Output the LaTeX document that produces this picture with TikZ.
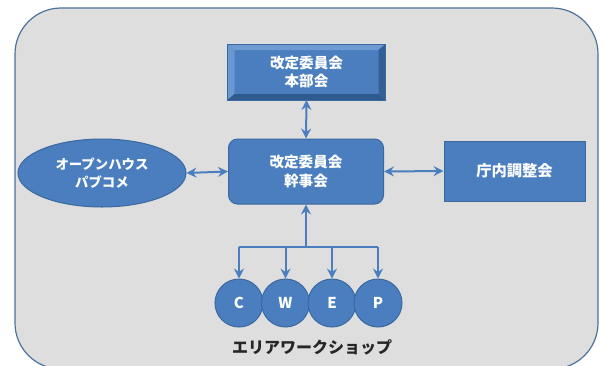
\documentclass[tikz,border=0pt]{standalone}
\usepackage{fontspec}
\newfontfamily\jp{Noto Sans CJK JP}
\usetikzlibrary{shapes.geometric,arrows.meta}
\definecolor{bluefill}{HTML}{4A7EBF}
\definecolor{blueedge}{HTML}{3B689F}
\definecolor{bglight}{HTML}{DEDEDE}
\definecolor{outeredge}{HTML}{4F729C}
\definecolor{bevlight}{HTML}{6E9BD2}
\definecolor{bevdark}{HTML}{2F5A8E}
\begin{document}
\begin{tikzpicture}[x=1pt,y=-1pt,
  boxtext/.style={text=white,font=\jp\bfseries\fontsize{14.6}{18.5}\selectfont,align=center},
  bluebox/.style={boxtext,fill=bluefill,draw=blueedge,line width=1pt,inner sep=0pt},
  circ/.style={bluebox,circle,minimum size=48pt,font=\jp\bfseries\fontsize{15}{16}\selectfont},
  conn/.style={draw=bluefill,line width=2pt},
  tip/.tip={Stealth[length=10pt,width=10pt,inset=3.5pt]},
  arr/.style={conn,-tip},
  darr/.style={conn,tip-tip}
]
\useasboundingbox (0,0) rectangle (606,365);
\fill[white] (0,0) rectangle (606,365);
\begin{scope}
\clip (0,0) rectangle (606,365);
\draw[fill=bglight,draw=outeredge,line width=1.2pt,rounded corners=46pt] (15,8) rectangle (598,369);
\end{scope}
% bevelled box
\node[bluebox,minimum width=157pt,minimum height=55pt] (honbu) at (306.5,72) {};
\fill[bevlight] (honbu.north west) -- (honbu.north east) -- ([xshift=-7pt,yshift=-6pt]honbu.north east) -- ([xshift=7pt,yshift=-6pt]honbu.north west) -- cycle;
\fill[bevlight!85!bluefill] (honbu.north west) -- ([xshift=7pt,yshift=-6pt]honbu.north west) -- ([xshift=7pt,yshift=6pt]honbu.south west) -- (honbu.south west) -- cycle;
\fill[bevdark] (honbu.south west) -- (honbu.south east) -- ([xshift=-7pt,yshift=6pt]honbu.south east) -- ([xshift=7pt,yshift=6pt]honbu.south west) -- cycle;
\fill[bevdark!85!bluefill] (honbu.north east) -- ([xshift=-7pt,yshift=-6pt]honbu.north east) -- ([xshift=-7pt,yshift=6pt]honbu.south east) -- (honbu.south east) -- cycle;
\draw[blueedge,line width=1pt] (honbu.north west) rectangle (honbu.south east);
\node[boxtext] at (honbu.center) {改定委員会\\本部会};
% main box
\node[bluebox,rounded corners=9pt,minimum width=155pt,minimum height=65pt] (kanji) at (306,171.5) {改定委員会\\幹事会};
% ellipse
\node[bluebox,ellipse,minimum width=168pt,minimum height=68pt,font=\jp\bfseries\fontsize{13.4}{17.5}\selectfont] (open) at (102,173) {オープンハウス\\パブコメ};
% right box
\node[bluebox,minimum width=141pt,minimum height=60pt,font=\jp\bfseries\fontsize{15.3}{18}\selectfont] (chonai) at (514.5,171) {庁内調整会};
% circles
\node[circ] (C) at (239,303) {C};
\node[circ] (W) at (285.5,303) {W};
\node[circ] (E) at (332,303) {E};
\node[circ] (P) at (378,303) {P};
\node[font=\jp\bfseries\fontsize{16}{18}\selectfont,text=black!85] (ws) at (312,347) {エリアワークショップ};
% connectors
\draw[darr] (honbu.south) -- (kanji.north);
\draw[darr] (open.east) -- (kanji.west);
\draw[darr] (kanji.east) -- (chonai.west);
\coordinate (bus) at (306,247);
\draw[arr] (bus) -- (kanji.south);
\draw[conn] (C.north |- bus) -- (P.north |- bus);
\foreach \n in {C,W,E,P} \draw[arr] (\n.north |- bus) -- (\n.north);
\end{tikzpicture}
\end{document}
